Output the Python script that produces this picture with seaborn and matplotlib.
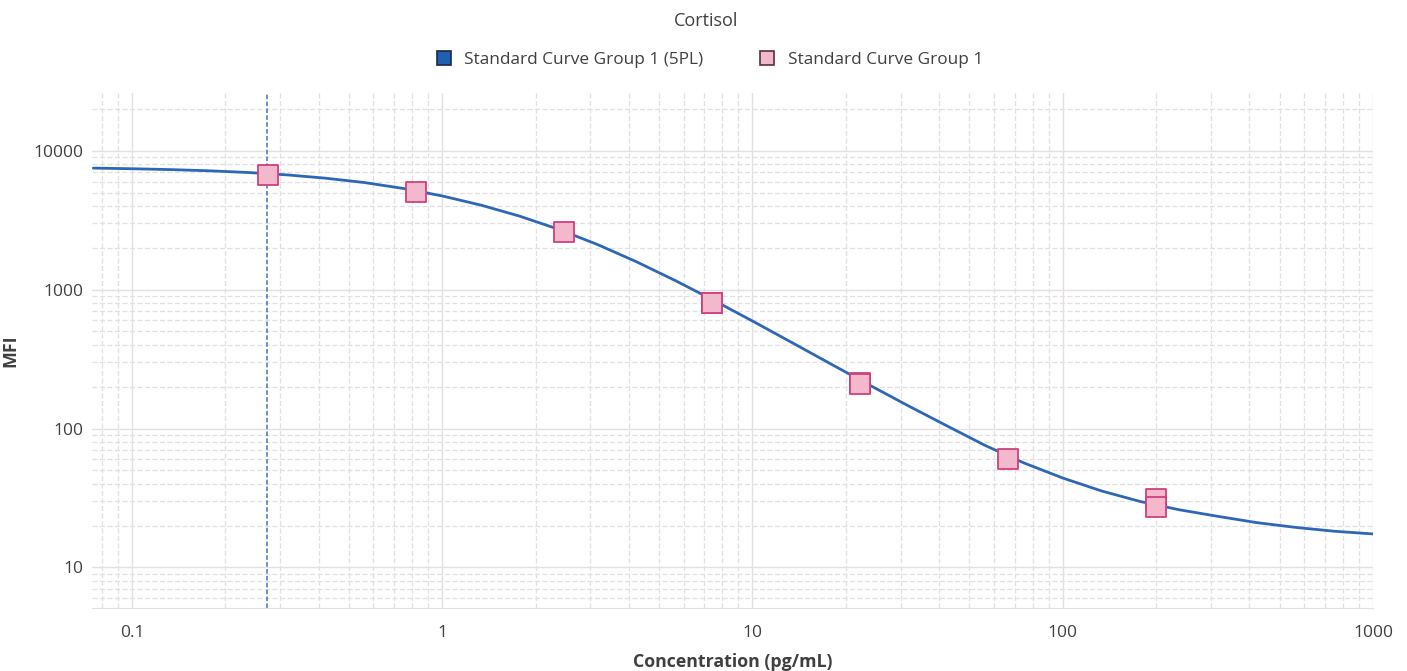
import matplotlib
matplotlib.use("Agg")
import matplotlib.pyplot as plt
import matplotlib.ticker as mticker
from matplotlib.lines import Line2D
import pandas as pd
import seaborn as sns

# standards (duplicates)
std_conc = [0.2743, 0.823, 2.469, 7.407, 7.407, 22.22, 22.22, 66.67, 200.0, 200.0]
std_mfi = [6715, 5070, 2612, 806, 797, 214, 210, 60.8, 31.1, 27.0]

# fitted 5PL curve (every 1/8 decade)
curve_conc = [0.075, 0.1, 0.1334, 0.1778, 0.2371, 0.3162, 0.4217, 0.5623, 0.7499,
              1.0, 1.334, 1.778, 2.371, 3.162, 4.217, 5.623, 7.499,
              10.0, 13.34, 17.78, 23.71, 31.62, 42.17, 56.23, 74.99,
              100.0, 133.4, 177.8, 237.1, 316.2, 421.7, 562.3, 749.9, 1000.0]
curve_mfi = [7516, 7436, 7329, 7186, 6984, 6714, 6353, 5909, 5359,
             4735, 4064, 3384, 2723, 2117, 1593, 1167, 838.5,
             594.6, 418.4, 293.9, 206.8, 146.6, 105.0, 75.5, 56.5,
             44.0, 35.5, 29.8, 26.0, 23.3, 21.0, 19.4, 18.2, 17.4]

lloq = 0.2725
x_ticks = [0.1, 1, 10, 100, 1000]
y_ticks = [10, 100, 1000, 10000]

blue = "#2e67b8"
pink_face = "#f3b8cb"
pink_edge = "#d0407e"
grid_col = "#e4dfe0"
text_col = "#404040"

sns.set_style("white")
plt.rcParams["font.family"] = ["Open Sans", "DejaVu Sans"]

curve_df = pd.DataFrame({"conc": curve_conc, "mfi": curve_mfi})
std_df = pd.DataFrame({"conc": std_conc, "mfi": std_mfi})

fig = plt.figure(figsize=(14.07, 6.71), dpi=100)
ax = fig.add_axes([0.0654, 0.094, 0.9104, 0.767])

ax.set_xscale("log")
ax.set_yscale("log")
ax.set_xlim(0.0743, 1000)
ax.set_ylim(5.1, 26000)

ax.set_axisbelow(True)
ax.grid(which="major", color=grid_col, linewidth=1.0, linestyle="-")
ax.grid(which="minor", color=grid_col, linewidth=0.9, linestyle=(0, (4, 2)))

ax.axvline(lloq, color="#4a70b8", linewidth=1.1, linestyle=(0, (3, 1.5)), zorder=2)

sns.lineplot(data=curve_df, x="conc", y="mfi", ax=ax, color=blue,
             linewidth=2.0, sort=True, estimator=None, zorder=3)
sns.scatterplot(data=std_df, x="conc", y="mfi", ax=ax, marker="s", s=210,
                color=pink_face, edgecolor=pink_edge, linewidth=1.3, zorder=4)

ax.xaxis.set_major_locator(mticker.FixedLocator(x_ticks))
ax.xaxis.set_major_formatter(mticker.FixedFormatter(["0.1", "1", "10", "100", "1000"]))
ax.yaxis.set_major_locator(mticker.FixedLocator(y_ticks))
ax.yaxis.set_major_formatter(mticker.FixedFormatter(["10", "100", "1000", "10000"]))
ax.xaxis.set_minor_locator(mticker.LogLocator(base=10, subs=range(2, 10), numticks=20))
ax.yaxis.set_minor_locator(mticker.LogLocator(base=10, subs=range(2, 10), numticks=20))
ax.xaxis.set_minor_formatter(mticker.NullFormatter())
ax.yaxis.set_minor_formatter(mticker.NullFormatter())

ax.tick_params(axis="both", which="major", length=0, labelsize=12.5,
               labelcolor=text_col)
ax.tick_params(axis="x", which="major", pad=12)
ax.tick_params(axis="y", which="major", pad=6)
ax.tick_params(axis="x", which="minor", length=4, color=grid_col, direction="out")
ax.tick_params(axis="y", which="minor", length=0)

for side in ["top", "right", "left"]:
    ax.spines[side].set_visible(False)
ax.spines["bottom"].set_color(grid_col)

ax.set_xlabel("Concentration (pg/mL)", fontsize=12.8, fontweight="bold",
              color=text_col, labelpad=9)
ax.set_ylabel("MFI", fontsize=12.8, fontweight="bold", color=text_col)
ax.yaxis.set_label_coords(-0.057, 0.5)

fig.text(0.5017, 0.968, "Cortisol", ha="center", va="center", fontsize=13, color=text_col)

handles = [
    Line2D([], [], marker="s", linestyle="none", markersize=10,
           markerfacecolor="#2160b0", markeredgecolor="#1a2a44", markeredgewidth=1.2),
    Line2D([], [], marker="s", linestyle="none", markersize=10,
           markerfacecolor=pink_face, markeredgecolor="#5a3040", markeredgewidth=1.2),
]
fig.legend(handles, ["Standard Curve Group 1 (5PL)", "Standard Curve Group 1"],
           loc="center", bbox_to_anchor=(0.501, 0.91), ncol=2, frameon=False,
           fontsize=12.4, handletextpad=0.2, columnspacing=2.7, labelcolor=text_col)

fig.savefig("out.png", dpi=100)
plt.close(fig)
